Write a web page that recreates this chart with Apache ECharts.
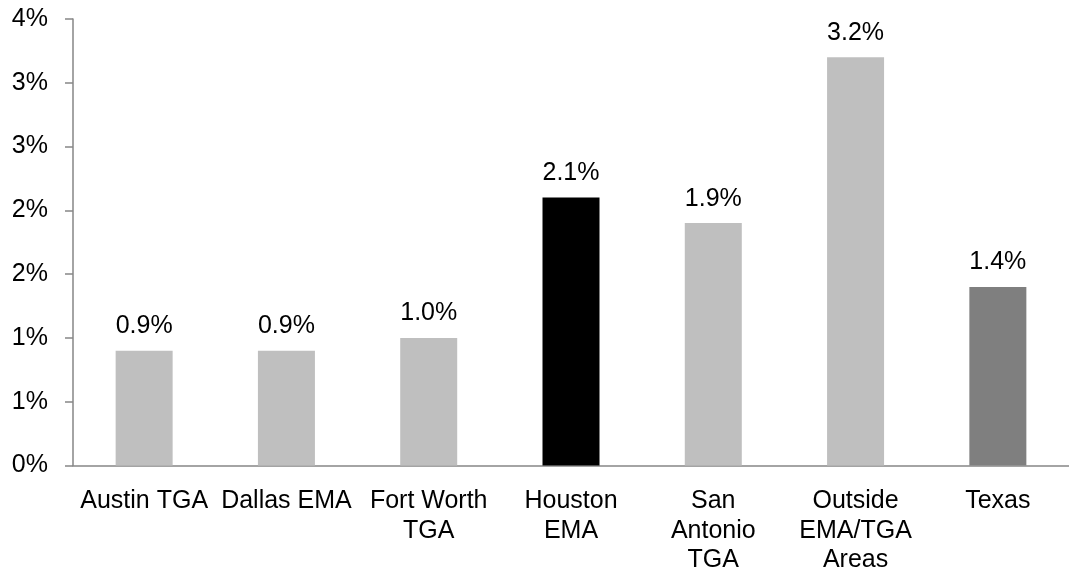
<!DOCTYPE html>
<html>
<head>
<meta charset="utf-8">
<script src="https://cdn.jsdelivr.net/npm/echarts@6/dist/echarts.min.js"></script>
<style>
html,body{margin:0;padding:0;background:#fff;}
#chart{width:1069px;height:575px;}
</style>
</head>
<body>
<div id="chart"></div>
<script>
const categories = ['Austin TGA', 'Dallas EMA', 'Fort Worth\nTGA', 'Houston\nEMA', 'San\nAntonio\nTGA', 'Outside\nEMA/TGA\nAreas', 'Texas'];
const values = [0.9, 0.9, 1.0, 2.1, 1.9, 3.2, 1.4];
const barColors = ['#bfbfbf', '#bfbfbf', '#bfbfbf', '#000000', '#bfbfbf', '#bfbfbf', '#7f7f7f'];
const yTickLabels = ['0%', '1%', '1%', '2%', '2%', '3%', '3%', '4%'];

const chart = echarts.init(document.getElementById('chart'));
const font = 'Liberation Sans, Arial, sans-serif';
chart.setOption({
  animation: false,
  backgroundColor: '#ffffff',
  grid: { left: 73, right: -12, top: 19, bottom: 105, containLabel: false },
  xAxis: {
    type: 'category',
    data: categories,
    axisLine: { lineStyle: { color: '#868686', width: 1.5 } },
    axisTick: { show: false },
    axisLabel: { color: '#000', fontFamily: font, fontSize: 25, margin: 21, lineHeight: 29.5, interval: 0 }
  },
  yAxis: {
    type: 'value',
    min: 0, max: 3.5, interval: 0.5,
    splitLine: { show: false },
    axisLine: { show: true, lineStyle: { color: '#868686', width: 1.5 } },
    axisTick: { show: true, length: 8, lineStyle: { color: '#868686', width: 1.5 } },
    axisLabel: {
      color: '#000', fontFamily: font, fontSize: 25, margin: 25,
      formatter: function (v) { return yTickLabels[Math.round(v / 0.5)]; }
    }
  },
  series: [{
    type: 'bar',
    barWidth: 57,
    data: values.map((v, i) => ({ value: v, itemStyle: { color: barColors[i] } })),
    label: {
      show: true, position: 'top', distance: 12,
      color: '#000', fontFamily: font, fontSize: 25,
      formatter: p => p.value.toFixed(1) + '%'
    }
  }]
});
</script>
</body>
</html>
